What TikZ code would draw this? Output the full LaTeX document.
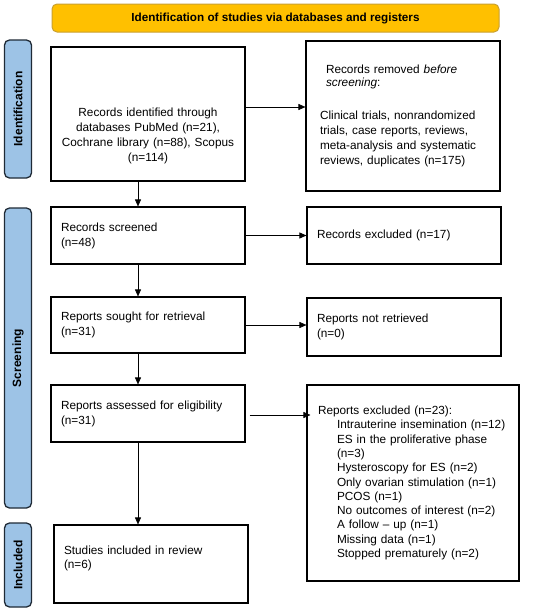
\documentclass[tikz,border=0pt]{standalone}
\usepackage{fontspec}
\setmainfont{Liberation Sans}
\usetikzlibrary{arrows.meta}
\definecolor{bannerfill}{HTML}{FFC000}
\definecolor{bannerdraw}{HTML}{C9A030}
\definecolor{barfill}{HTML}{9DC3E6}
\definecolor{bardraw}{HTML}{1F2A36}
\begin{document}
\begin{tikzpicture}[x=1pt,y=-1pt,
  box/.style={draw=black, line width=1.1pt, inner sep=0pt,
    font=\fontsize{11.8}{15}\selectfont},
  banner/.style={draw=bannerdraw, fill=bannerfill, line width=1pt,
    rounded corners=5pt, inner sep=0pt, font=\fontsize{11.7}{14}\selectfont\bfseries},
  sidebar/.style={draw=bardraw, fill=barfill, line width=1.3pt,
    rounded corners=5pt, inner sep=0pt, rotate=90, minimum height=27pt,
    font=\fontsize{12}{14}\selectfont\bfseries},
  arr/.style={-{Triangle[length=7pt,width=6pt]}, line width=0.6pt}]
\useasboundingbox (0,0) rectangle (550,611);

\node[banner, minimum width=447pt, minimum height=28pt] (ban) at (275.5,18)
  {Identification of studies via databases and registers};

\node[sidebar, minimum width=138pt] (sid) at (18,109) {Identification};
\node[sidebar, minimum width=300pt] (sscr) at (18,358) {Screening};
\node[sidebar, minimum width=84pt] (sinc) at (18,565) {Included};

\node[box, minimum width=194pt, minimum height=134pt, text width=186pt, align=center] (b1) at (148,114)
  {\mbox{}\\[37pt]Records identified through\\ databases PubMed (n=21),\\ Cochrane library (n=88), Scopus\\ (n=114)};

\node[box, minimum width=194pt, minimum height=150pt, text width=166pt, align=left] (b2) at (403,116)
  {\hspace*{6pt}Records removed \textit{before}\\[-2.5pt]
   \hspace*{6pt}\textit{screening}:\\[18pt]
   Clinical trials, nonrandomized\\ trials, case reports, reviews,\\ meta-analysis and systematic\\ reviews, duplicates (n=175)};

\node[box, minimum width=194pt, minimum height=57pt, text width=174pt, align=left] (b3) at (148,235.5)
  {Records screened\\ (n=48)};
\node[box, minimum width=194pt, minimum height=57pt, text width=174pt, align=left] (b4) at (404,235.5)
  {Records excluded (n=17)};

\node[box, minimum width=194pt, minimum height=56pt, text width=174pt, align=left] (b5) at (148,325)
  {Reports sought for retrieval\\ (n=31)};
\node[box, minimum width=194pt, minimum height=58pt, text width=174pt, align=left] (b6) at (404,327)
  {Reports not retrieved\\ (n=0)};

\node[box, minimum width=194pt, minimum height=57pt, text width=174pt, align=left] (b7) at (148,413.5)
  {Reports assessed for eligibility\\ (n=31)};
\node[box, minimum width=212pt, minimum height=196pt, text width=190pt, align=left,
  font=\fontsize{11.8}{14.3}\selectfont] (b8) at (413,483)
  {Reports excluded (n=23):\\
   \hspace*{19pt}Intrauterine insemination (n=12)\\
   \hspace*{19pt}ES in the proliferative phase\\
   \hspace*{19pt}(n=3)\\
   \hspace*{19pt}Hysteroscopy for ES (n=2)\\
   \hspace*{19pt}Only ovarian stimulation (n=1)\\
   \hspace*{19pt}PCOS (n=1)\\
   \hspace*{19pt}No outcomes of interest (n=2)\\
   \hspace*{19pt}A follow -- up (n=1)\\
   \hspace*{19pt}Missing data (n=1)\\
   \hspace*{19pt}Stopped prematurely (n=2)};

\node[box, minimum width=194pt, minimum height=78pt, text width=174pt, align=left,
  font=\fontsize{11.8}{13.5}\selectfont] (b9) at (151,564)
  {Studies included in review\\ (n=6)\\ \mbox{}};

\draw[arr] ([yshift=7pt]b1.east) -- ([yshift=7pt]b1.east -| b2.west);
\draw[arr] ([xshift=-10pt]b1.south) -- ([xshift=-10pt]b1.south |- b3.north);
\draw[arr] (b3.east) -- (b3.east -| b4.west);
\draw[arr] ([xshift=-10pt]b3.south) -- ([xshift=-10pt]b3.south |- b5.north);
\draw[arr] (b5.east) -- (b5.east -| b6.west);
\draw[arr] ([xshift=-10pt]b5.south) -- ([xshift=-10pt]b5.south |- b7.north);
\draw[arr] ([xshift=4pt,yshift=-1.5pt]b7.east) -- ([xshift=4pt,yshift=-1.5pt]b7.east -| b8.west);
\draw[arr] ([xshift=-10pt]b7.south) -- ([xshift=-10pt]b7.south |- b9.north);
\end{tikzpicture}
\end{document}
